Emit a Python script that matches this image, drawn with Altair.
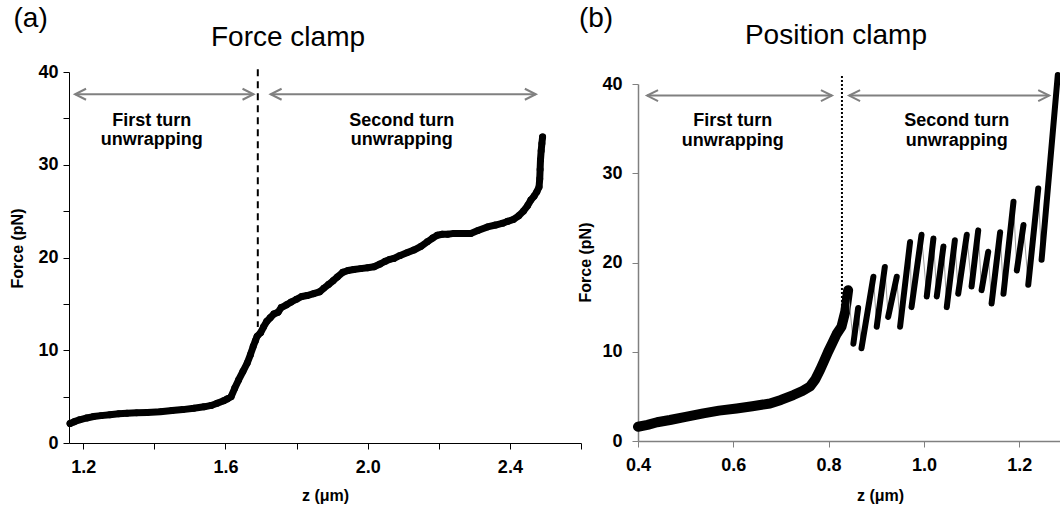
import altair as alt
import pandas as pd

# ---------------- data ----------------
# (a) force clamp trace
fc_z = [1.163, 1.175, 1.19, 1.21, 1.229, 1.25, 1.275, 1.30, 1.323, 1.35, 1.38, 1.417, 1.45, 1.48,
        1.511, 1.54, 1.56, 1.577, 1.595, 1.605, 1.616, 1.626, 1.637, 1.649, 1.661, 1.670, 1.678,
        1.684, 1.689, 1.699, 1.707, 1.716, 1.726, 1.736, 1.748, 1.757, 1.772, 1.785, 1.80, 1.815,
        1.83, 1.848, 1.865, 1.877, 1.89, 1.903, 1.915, 1.93, 1.945, 1.961, 1.98, 2.0, 2.018, 2.035,
        2.05, 2.062, 2.074, 2.09, 2.11, 2.13, 2.15, 2.168, 2.183, 2.196, 2.21, 2.225, 2.243, 2.265,
        2.29, 2.31, 2.337, 2.36, 2.38, 2.394, 2.41, 2.425, 2.438, 2.45, 2.459, 2.468, 2.476, 2.482,
        2.484, 2.485, 2.486, 2.488, 2.49, 2.492]
fc_f = [2.1, 2.3, 2.5, 2.7, 2.85, 2.95, 3.05, 3.15, 3.2, 3.25, 3.3, 3.38, 3.5, 3.6,
        3.74, 3.9, 4.05, 4.28, 4.55, 4.75, 5.0, 5.9, 6.8, 7.7, 8.6, 9.5, 10.4,
        11.0, 11.5, 11.9, 12.5, 13.1, 13.5, 13.9, 14.1, 14.6, 14.9, 15.2, 15.5, 15.8,
        15.9, 16.1, 16.3, 16.7, 17.1, 17.5, 17.9, 18.4, 18.6, 18.7, 18.8, 18.9, 19.0, 19.3,
        19.6, 19.8, 19.9, 20.2, 20.5, 20.8, 21.2, 21.7, 22.1, 22.4, 22.5, 22.5, 22.6, 22.6,
        22.6, 22.9, 23.3, 23.5, 23.7, 23.9, 24.1, 24.5, 25.0, 25.6, 26.2, 26.6, 27.1, 27.6,
        28.5, 29.5, 30.5, 31.5, 32.3, 33.0]

# (b) position clamp: first-turn part
pc_z = [0.40, 0.42, 0.44, 0.467, 0.50, 0.537, 0.57, 0.607, 0.64, 0.677, 0.70, 0.726, 0.745,
        0.761, 0.772, 0.782, 0.790, 0.799, 0.808, 0.817, 0.827, 0.835, 0.841]
pc_f = [1.6, 1.8, 2.1, 2.35, 2.7, 3.1, 3.4, 3.65, 3.9, 4.2, 4.6, 5.15, 5.6,
        6.1, 6.9, 7.95, 8.9, 10.0, 11.0, 12.0, 12.8, 14.5, 16.9]

# (b) sawtooth strokes: bottom and top of each rising stroke
saw_bot_z = [0.831, 0.852, 0.869, 0.901, 0.925, 0.950, 0.974, 1.006, 1.027, 1.048, 1.072, 1.100,
             1.121, 1.142, 1.167, 1.195, 1.219, 1.247]
saw_bot_f = [13.2, 10.9, 10.4, 12.8, 13.9, 12.8, 15.0, 16.2, 16.2, 15.0, 16.5, 17.3,
             16.9, 15.4, 16.5, 19.1, 17.5, 20.3]
saw_top_z = [0.841, 0.862, 0.894, 0.918, 0.943, 0.971, 0.995, 1.020, 1.041, 1.065, 1.090, 1.114,
             1.135, 1.160, 1.188, 1.209, 1.240, 1.281]
saw_top_f = [16.9, 14.9, 18.4, 19.5, 18.4, 22.3, 23.1, 22.7, 21.8, 22.5, 23.1, 23.6,
             21.2, 23.4, 26.8, 24.2, 28.3, 41.0]

# annotations
left_div = [1.691, 40.3, 12.5]      # z, top, bottom
right_div = [0.828, 40.9, 13.0]
left_arrows_z0 = [1.177, 1.727]
left_arrows_z1 = [1.679, 2.473]
left_arrow_f = 37.6
right_arrows_z0 = [0.419, 0.843]
right_arrows_z1 = [0.807, 1.263]
right_arrow_f = 38.7
left_text = ["First turn", "unwrapping", "Second turn", "unwrapping"]
left_text_z = [1.393, 1.393, 2.096, 2.096]
left_text_f = [34.2, 32.1, 34.2, 32.1]
right_text = ["First turn", "unwrapping", "Second turn", "unwrapping"]
right_text_z = [0.599, 0.599, 1.069, 1.069]
right_text_f = [35.3, 33.1, 35.3, 33.1]

FONT = "Liberation Sans"
GRAY = "#808080"

# ---------------- scales ----------------
LX = alt.Scale(domain=[1.16, 2.6], range=[0, 512], nice=False, zero=False)
LY = alt.Scale(domain=[0, 40], range=[371, 0], nice=False, zero=False)
RX = alt.Scale(domain=[0.4, 1.4], range=[569, 1045.5], nice=False, zero=False)
RY = alt.Scale(domain=[0, 40], range=[369, 12], nice=False, zero=False)

common_axis = dict(grid=False, labelFont=FONT, labelFontSize=18, labelFontWeight="bold",
                   labelColor="black", titleFont=FONT, titleFontSize=16, titleFontWeight="bold",
                   titleColor="black", labelFlush=False, labelOverlap=False, tickSize=6)

lx_axis = alt.Axis(orient="bottom", values=[1.2, 1.4, 1.6, 1.8, 2.0, 2.2, 2.4, 2.6], format=".1f",
                   labelExpr="round(datum.value*10) % 4 == 0 ? datum.label : ''",
                   title="z (μm)", titleX=256, titleY=44, titleAlign="center", titleBaseline="top",
                   domainColor="black", tickColor="black", labelPadding=9, **common_axis)
ly_axis = alt.Axis(orient="left", values=[0, 5, 10, 15, 20, 25, 30, 35, 40],
                   labelExpr="datum.value % 10 == 0 ? datum.label : ''",
                   title="Force (pN)", titleX=-44, titleY=176, titleAlign="center",
                   titleBaseline="bottom", titleAngle=270,
                   domainColor="black", tickColor="black", labelPadding=5, **common_axis)
rx_axis = alt.Axis(orient="bottom", offset=-2, values=[0.4, 0.6, 0.8, 1.0, 1.2], format=".1f",
                   title="z (μm)", titleX=811, titleY=46, titleAlign="center", titleBaseline="top",
                   domainColor=GRAY, tickColor=GRAY, domainWidth=1.5, labelPadding=9, **common_axis)
ry_axis = alt.Axis(orient="left", offset=-569, values=[0, 10, 20, 30, 40],
                   title="Force (pN)", titleX=-45, titleY=190, titleAlign="center",
                   titleBaseline="bottom", titleAngle=270,
                   domainColor=GRAY, tickColor=GRAY, domainWidth=1.5, labelPadding=10, **common_axis)

# ---------------- tables ----------------
fc = pd.DataFrame({"z": fc_z, "F": fc_f, "i": range(len(fc_z))})
pc = pd.DataFrame({"z": pc_z, "F": pc_f, "i": range(len(pc_z))})
rows, chain = [], []
for k in range(len(saw_bot_z)):
    rows.append({"z": saw_bot_z[k], "F": saw_bot_f[k], "seg": k, "i": 0})
    rows.append({"z": saw_top_z[k], "F": saw_top_f[k], "seg": k, "i": 1})
    chain.append({"z": saw_bot_z[k], "F": saw_bot_f[k], "i": 2 * k})
    chain.append({"z": saw_top_z[k], "F": saw_top_f[k], "i": 2 * k + 1})
saw = pd.DataFrame(rows)
sawchain = pd.DataFrame(chain)

LEFT_HEAD = "M2,-1L0,0L2,1"
RIGHT_HEAD = "M-2,-1L0,0L-2,1"


def arrows(z0s, z1s, f):
    lines = pd.DataFrame({"z0": z0s, "z1": z1s, "F": [f] * len(z0s)})
    heads = pd.DataFrame({"z": list(z0s) + list(z1s), "F": [f] * (2 * len(z0s)),
                          "d": ["L"] * len(z0s) + ["R"] * len(z1s)})
    return lines, heads


def panel(xs, ys, trace_layers, div, dash, arr_lines, arr_heads, texts, titles):
    layers = list(trace_layers)
    layers.append(alt.Chart(pd.DataFrame({"z": [div[0]], "F": [div[1]], "F2": [div[2]]}))
                  .mark_rule(color="black", strokeWidth=2, strokeDash=dash)
                  .encode(x=alt.X("z:Q", scale=xs, axis=None),
                          y=alt.Y("F:Q", scale=ys, axis=None), y2="F2:Q"))
    layers.append(alt.Chart(arr_lines).mark_rule(color=GRAY, strokeWidth=2)
                  .encode(x=alt.X("z0:Q", scale=xs, axis=None), x2="z1:Q",
                          y=alt.Y("F:Q", scale=ys, axis=None)))
    layers.append(alt.Chart(arr_heads).mark_point(filled=False, color=GRAY, strokeWidth=2, size=121, opacity=1)
                  .encode(x=alt.X("z:Q", scale=xs, axis=None),
                          y=alt.Y("F:Q", scale=ys, axis=None),
                          shape=alt.Shape("d:N", scale=alt.Scale(domain=["L", "R"], range=[LEFT_HEAD, RIGHT_HEAD]),
                                          legend=None)))
    layers.append(alt.Chart(texts).mark_text(font=FONT, fontSize=18, fontWeight="bold", color="black",
                                             align="center", baseline="alphabetic")
                  .encode(x=alt.X("z:Q", scale=xs, axis=None), y=alt.Y("F:Q", scale=ys, axis=None),
                          text="t:N"))
    layers.append(alt.Chart(titles).mark_text(font=FONT, fontSize=28, color="black", align="center",
                                              baseline="alphabetic")
                  .encode(x=alt.X("z:Q", scale=xs, axis=None), y=alt.Y("F:Q", scale=ys, axis=None),
                          text="t:N"))
    return layers


# left traces
l_trace = [
    alt.Chart(fc).mark_line(color="black", strokeWidth=7, strokeCap="round", strokeJoin="round")
    .encode(x=alt.X("z:Q", scale=LX, axis=lx_axis, title="z (μm)"),
            y=alt.Y("F:Q", scale=LY, axis=ly_axis, title="Force (pN)"), order="i:Q"),
    alt.Chart(fc).mark_circle(color="black", size=48, opacity=1)
    .encode(x=alt.X("z:Q", scale=LX, axis=None), y=alt.Y("F:Q", scale=LY, axis=None)),
]
r_trace = [
    alt.Chart(pc).mark_line(color="black", strokeWidth=10, strokeCap="round", strokeJoin="round")
    .encode(x=alt.X("z:Q", scale=RX, axis=rx_axis, title="z (μm)"),
            y=alt.Y("F:Q", scale=RY, axis=ry_axis, title="Force (pN)"), order="i:Q"),
    alt.Chart(sawchain).mark_line(color="#9a9a9a", strokeWidth=1)
    .encode(x=alt.X("z:Q", scale=RX, axis=None), y=alt.Y("F:Q", scale=RY, axis=None), order="i:Q"),
    alt.Chart(saw).mark_line(color="black", strokeWidth=6, strokeCap="round")
    .encode(x=alt.X("z:Q", scale=RX, axis=None), y=alt.Y("F:Q", scale=RY, axis=None),
            detail="seg:N", order="i:Q"),
]

la_lines, la_heads = arrows(left_arrows_z0, left_arrows_z1, left_arrow_f)
ra_lines, ra_heads = arrows(right_arrows_z0, right_arrows_z1, right_arrow_f)

left_titles = pd.DataFrame({"t": ["Force clamp"], "z": [1.776], "F": [42.8]})
right_titles = pd.DataFrame({"t": ["Position clamp"], "z": [0.8155], "F": [44.5]})

left_layers = panel(LX, LY, l_trace, left_div, [7, 5], la_lines, la_heads,
                    pd.DataFrame({"t": left_text, "z": left_text_z, "F": left_text_f}), left_titles)
right_layers = panel(RX, RY, r_trace, right_div, [2, 2], ra_lines, ra_heads,
                     pd.DataFrame({"t": right_text, "z": right_text_z, "F": right_text_f}), right_titles)

letters = [
    alt.Chart(pd.DataFrame({"t": ["(a)"], "z": [1.004], "F": [44.85]}))
    .mark_text(font=FONT, fontSize=28, color="black", align="left", baseline="alphabetic")
    .encode(x=alt.X("z:Q", scale=LX, axis=None), y=alt.Y("F:Q", scale=LY, axis=None), text="t:N"),
    alt.Chart(pd.DataFrame({"t": ["(b)"], "z": [0.276], "F": [46.4]}))
    .mark_text(font=FONT, fontSize=28, color="black", align="left", baseline="alphabetic")
    .encode(x=alt.X("z:Q", scale=RX, axis=None), y=alt.Y("F:Q", scale=RY, axis=None), text="t:N"),
]

chart = (
    alt.layer(*left_layers, *right_layers, *letters)
    .resolve_scale(x="independent", y="independent")
    .properties(width=991, height=371, autosize=alt.AutoSizeParams(type="none"),
                padding={"left": 69, "top": 72, "right": 0, "bottom": 66}, background="white")
    .configure_view(stroke="transparent")
)

chart.save("out.html", embed_options={"renderer": "svg", "actions": False})
